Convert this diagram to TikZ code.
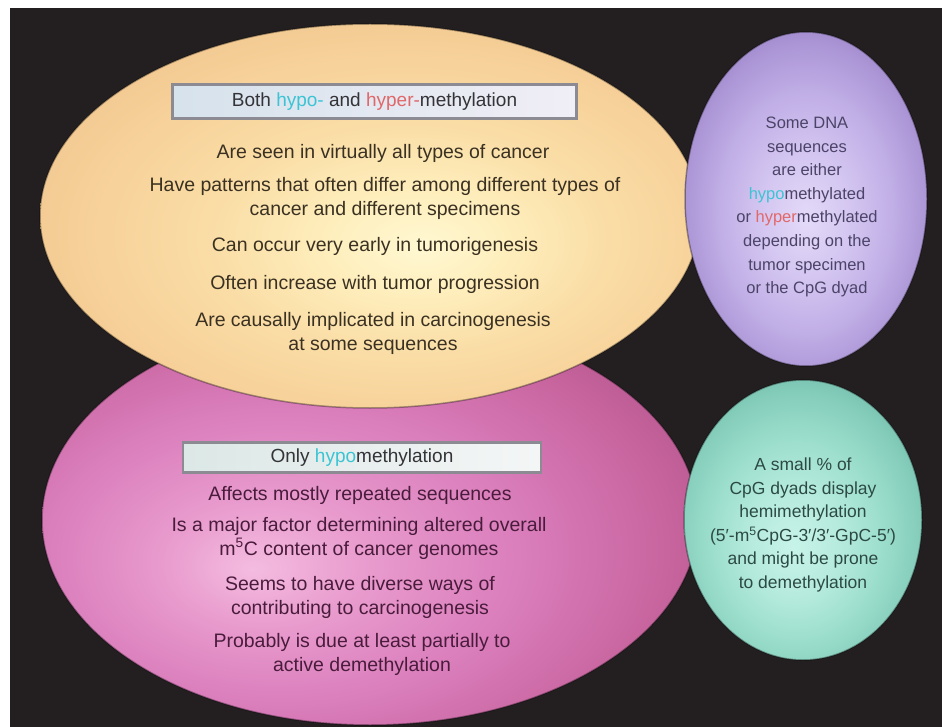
\documentclass[tikz,border=0pt]{standalone}
\usepackage{fontspec}
\setmainfont{Liberation Sans}
\usetikzlibrary{shapes.geometric}
\definecolor{bgblack}{HTML}{231F20}
\definecolor{ylA}{HTML}{FFF8D2}\definecolor{ylB}{HTML}{FEEEBC}\definecolor{ylC}{HTML}{FADDA6}\definecolor{ylD}{HTML}{F7D29A}\definecolor{ylE}{HTML}{F1C790}
\definecolor{pkA}{HTML}{F4BCE0}\definecolor{pkB}{HTML}{E89ACD}\definecolor{pkC}{HTML}{DA7EBC}\definecolor{pkD}{HTML}{C8659F}\definecolor{pkE}{HTML}{B0508A}
\definecolor{puA}{HTML}{E4DAF8}\definecolor{puB}{HTML}{D2C4F0}\definecolor{puC}{HTML}{C0AEE6}\definecolor{puD}{HTML}{AC96D6}\definecolor{puE}{HTML}{9880C4}
\definecolor{tlA}{HTML}{C8F4E8}\definecolor{tlB}{HTML}{B4EADC}\definecolor{tlC}{HTML}{9CDECC}\definecolor{tlD}{HTML}{84CCBA}\definecolor{tlE}{HTML}{6CB4A4}
\definecolor{boxLa}{HTML}{D6E2EC}\definecolor{boxRa}{HTML}{F0EEF6}
\definecolor{boxLb}{HTML}{DCE8E6}\definecolor{boxRb}{HTML}{F4F6F6}
\definecolor{boxgray}{HTML}{8C8A92}
\definecolor{ytext}{HTML}{3A3122}\definecolor{ptext}{HTML}{4A1C3C}
\definecolor{putext}{HTML}{4C4468}\definecolor{ttext}{HTML}{2C4A44}
\definecolor{tit}{HTML}{333338}
\definecolor{hypoc}{HTML}{3CC4D4}\definecolor{hyperc}{HTML}{E0686A}
\pgfdeclareradialshading{yelsh}{\pgfpoint{4bp}{-4bp}}{color(0bp)=(ylA); color(7bp)=(ylB); color(15bp)=(ylC); color(23bp)=(ylD); color(30bp)=(ylE); color(60bp)=(ylE)}
\pgfdeclareradialshading{pinksh}{\pgfpoint{-9bp}{-6bp}}{color(0bp)=(pkA); color(8bp)=(pkB); color(18bp)=(pkC); color(28bp)=(pkD); color(36bp)=(pkE); color(70bp)=(pkE)}
\pgfdeclareradialshading{pursh}{\pgfpoint{0bp}{-3bp}}{color(0bp)=(puA); color(10bp)=(puB); color(18bp)=(puC); color(25bp)=(puD); color(30bp)=(puE); color(60bp)=(puE)}
\pgfdeclareradialshading{tealsh}{\pgfpoint{-2bp}{-5bp}}{color(0bp)=(tlA); color(10bp)=(tlB); color(18bp)=(tlC); color(26bp)=(tlD); color(32bp)=(tlE); color(60bp)=(tlE)}
\tikzset{
  blob/.style={ellipse, inner sep=0pt},
  rim/.style={draw=black, draw opacity=0.35, line width=1.5pt},
  titlebox/.style={draw=boxgray, line width=2.5pt, inner sep=0pt, font=\fontsize{19}{22}\selectfont, text=tit},
  body/.style={align=center, inner sep=0pt, font=\fontsize{19.5}{24}\selectfont},
  sidep/.style={align=center, inner sep=0pt, font=\fontsize{16.5}{23.6}\selectfont},
  sidet/.style={align=center, inner sep=0pt, font=\fontsize{17.5}{23.6}\selectfont},
}
\newcommand{\hypo}[1]{\textcolor{hypoc}{#1}}
\newcommand{\hyper}[1]{\textcolor{hyperc}{#1}}
\begin{document}
\begin{tikzpicture}[x=1pt,y=-1pt]
\useasboundingbox (0,0) rectangle (942,727);
\fill[white] (0,0) rectangle (942,727);
\fill[bgblack] (10,8) rectangle (942,727);
% ellipses
\node[blob, rim, shading=pinksh, minimum width=656pt, minimum height=410pt] (pink) at (370,520) {};
\node[blob, rim, shading=yelsh, minimum width=660pt, minimum height=384pt] (yellow) at (370,216) {};
\node[blob, rim, shading=pursh, minimum width=242pt, minimum height=334pt] (purple) at (806,199) {};
\node[blob, rim, shading=tealsh, minimum width=238pt, minimum height=280pt] (teal) at (803,520) {};
% title boxes
\node[titlebox, left color=boxLa, right color=boxRa, minimum width=404pt, minimum height=34pt] (t1) at (374.5,101.5) {Both \hypo{hypo-} and \hyper{hyper-}methylation};
\node[titlebox, left color=boxLb, right color=boxRb, minimum width=358pt, minimum height=30pt] (t2) at (362,457.5) {Only \hypo{hypo}methylation};
% yellow items
\node[body, text=ytext] (y1) at (383,153) {Are seen in virtually all types of cancer};
\node[body, text=ytext] (y2) at (385,198) {Have patterns that often differ among different types of\\cancer and different specimens};
\node[body, text=ytext] (y3) at (375,246) {Can occur very early in tumorigenesis};
\node[body, text=ytext] (y4) at (375,284) {Often increase with tumor progression};
\node[body, text=ytext] (y5) at (373,333) {Are causally implicated in carcinogenesis\\at some sequences};
% pink items
\node[body, text=ptext] (p1) at (360,495) {Affects mostly repeated sequences};
\node[body, text=ptext] (p2) at (359,538) {Is a major factor determining altered overall\\m\textsuperscript{5}C content of cancer genomes};
\node[body, text=ptext] (p3) at (360,597) {Seems to have diverse ways of\\contributing to carcinogenesis};
\node[body, text=ptext] (p4) at (362,654.5) {Probably is due at least partially to\\active demethylation};
% side texts
\node[sidep, text=putext] (s1) at (807,207) {Some DNA\\sequences\\are either\\\hypo{hypo}methylated\\or \hyper{hyper}methylated\\depending on the\\tumor specimen\\or the CpG dyad};
\node[sidet, text=ttext] (s2) at (803,525) {A small \% of\\CpG dyads display\\hemimethylation\\(5′-m\textsuperscript{5}CpG-3′/3′-GpC-5′)\\and might be prone\\to demethylation};
\end{tikzpicture}
\end{document}
